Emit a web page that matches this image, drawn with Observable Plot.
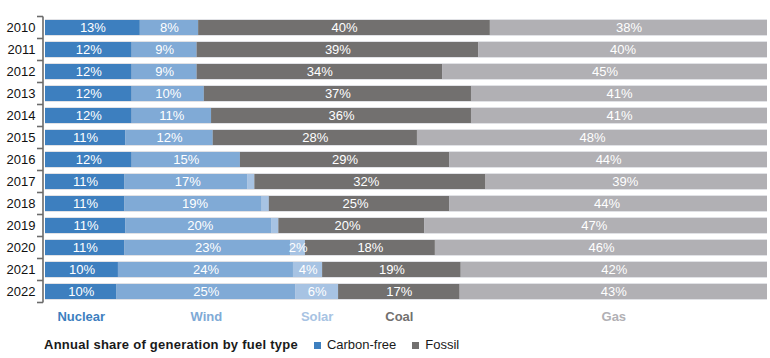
<!DOCTYPE html>
<html>
<head>
<meta charset="utf-8">
<script src="https://cdn.jsdelivr.net/npm/d3@7"></script>
<script src="https://cdn.jsdelivr.net/npm/@observablehq/plot@0.6"></script>
<style>
  body { margin: 0; background: #fff; font-family: "Liberation Sans", Arial, sans-serif; }
  #legend { height: 26px; line-height: 26px; font-size: 13px; color: #1a1a1a; padding-left: 44px; white-space: nowrap; }
  #legend b { letter-spacing: 0.25px; }
  #legend .sw { display: inline-block; width: 7px; height: 7px; margin: 0 6px 0 16px; vertical-align: 0px; }
</style>
</head>
<body>
<div id="chart"></div>
<div id="legend"></div>
<script>
const years   = [2010, 2011, 2012, 2013, 2014, 2015, 2016, 2017, 2018, 2019, 2020, 2021, 2022];
const fuels   = ["Nuclear", "Wind", "Solar", "Coal", "Gas"];
const nuclear = [13, 12, 12, 12, 12, 11, 12, 11, 11, 11, 11, 10, 10];
const wind    = [ 8,  9,  9, 10, 11, 12, 15, 17, 19, 20, 23, 24, 25];
const solar   = [ 0,  0,  0,  0,  0,  0,  0,  1,  1,  1,  2,  4,  6];
const coal    = [40, 39, 34, 37, 36, 28, 29, 32, 25, 20, 18, 19, 17];
const gas     = [38, 40, 45, 41, 41, 48, 44, 39, 44, 47, 46, 42, 43];
const fuelColors  = ["#3d7fbf", "#80aad6", "#a7c3e3", "#72706f", "#b1b0b4"];
const groupLabels = ["Carbon-free", "Fossil"];
const groupColors = ["#3d7fbf", "#72706f"];
const legendTitle = "Annual share of generation by fuel type";

const series = [nuclear, wind, solar, coal, gas];
const data = [];
years.forEach((yr, i) => fuels.forEach((f, j) => {
  data.push({year: String(yr), fuel: f, value: series[j][i]});
}));
const last = String(years[years.length - 1]);

const W = 770, H = 332, MT = 11, MB = 25.25;

const stackOpts = (extra) => Plot.stackX({
  x: "value", y: "year", z: "fuel", order: fuels, offset: "normalize", ...extra
});

const plot = Plot.plot({
  width: W, height: H,
  marginTop: MT, marginBottom: MB, marginLeft: 45, marginRight: 3,
  style: {fontFamily: "'Liberation Sans', Arial, sans-serif", fontSize: "13px", background: "#fff"},
  x: {axis: null},
  y: {domain: years.map(String), paddingInner: 0.33, paddingOuter: 0.165, label: null},
  color: {domain: fuels, range: fuelColors},
  marks: [
    Plot.axisY({tickSize: 0, tickPadding: 10, fontSize: 13, fill: "#111", label: null}),
    Plot.barX(years.map(String), {x1: 0, x2: 1, y: d => d, fill: "#e1e2e6", insetTop: -1, insetBottom: -1}),
    Plot.barX(data, stackOpts({fill: "fuel"})),
    Plot.text(data, stackOpts({
      filter: d => d.value >= 2,
      text: d => d.value + "%",
      fill: "#fff", fontSize: 13
    })),
    Plot.text(data, stackOpts({
      filter: d => d.year === last,
      text: "fuel", fill: "fuel", fontWeight: "bold", fontSize: 13, dy: 25
    }))
  ]
});

// Bracket-style y axis at the band boundaries, from the band scale
const ys = plot.scale("y");
const xs = plot.scale("x");
const x0 = xs.apply(0);
const gap = (ys.step - ys.bandwidth) / 2;
const bounds = years.map(y => ys.apply(String(y)) - gap);
bounds.push(ys.apply(last) + ys.bandwidth + gap);
const g = d3.select(plot).append("g").attr("stroke", "#6b6b6b").attr("stroke-width", 1.6).attr("fill", "none");
g.append("line").attr("x1", x0 - 2).attr("x2", x0 - 2).attr("y1", bounds[0]).attr("y2", bounds[bounds.length - 1]);
bounds.forEach(b => g.append("line").attr("x1", x0 - 8).attr("x2", x0 - 2).attr("y1", b).attr("y2", b));

document.getElementById("chart").appendChild(plot);

const leg = document.getElementById("legend");
const b = document.createElement("b");
b.textContent = legendTitle;
leg.appendChild(b);
groupLabels.forEach((lab, i) => {
  const sw = document.createElement("span");
  sw.className = "sw";
  sw.style.background = groupColors[i];
  leg.appendChild(sw);
  leg.appendChild(document.createTextNode(lab));
});
</script>
</body>
</html>
